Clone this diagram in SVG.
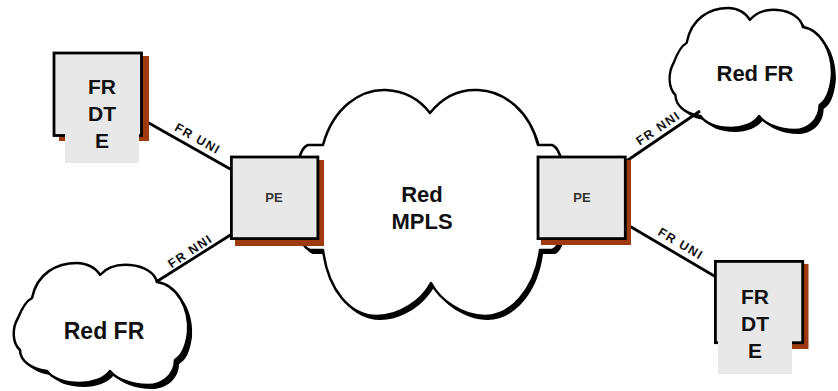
<svg xmlns="http://www.w3.org/2000/svg" width="838" height="391" viewBox="0 0 838 391">
<defs>
<style>
.box{fill:#e8e8e8;stroke:#000;stroke-width:2.8}
.sh{fill:#9e3a0e}
.lbg{fill:#e8e8e8}
.big{font-family:"Liberation Sans",Arial,sans-serif;font-weight:bold;fill:#111;text-anchor:middle}
.pe{font-family:"Liberation Sans",Arial,sans-serif;font-weight:bold;font-size:13px;fill:#333;text-anchor:middle}
.lk{font-family:"Liberation Sans",Arial,sans-serif;font-weight:bold;font-size:12.5px;fill:#111;text-anchor:middle}
.ln{stroke:#000;stroke-width:2.8;fill:none}
.cl{fill:#fff;stroke:#000;stroke-width:2.5;stroke-linejoin:round}
.cs{fill:#000}
</style>
<path id="fr" d="M20,35 C25,10 45,0 65,0 C75,0 84,5 88,12 C95,4 106,1 118,2 C132,3 143,10 145,19 C165,22 178,45 176,70 C174,85 170,93 163,97 C163,112 150,122 136,122 C120,122 104,116 98,108 C92,116 80,120 68,120 C52,120 40,115 35,108 C18,106 8,97 8,87 C0,80 0,65 6,55 C10,45 14,38 20,35 Z"/>
<path id="mpls" d="M323,145 C333,108 360,89 386,90 C405,91 420,100 430,113 C442,98 458,89 478,90 C505,91 530,112 538,145 L552,145 C570,150 570,245 552,250 L540,250 C535,290 510,316 485,316 C462,316 440,300 431,283 C422,300 400,316 377,316 C350,316 328,290 323,250 L310,250 C290,245 290,150 308,145 Z"/>
</defs>
<rect width="838" height="391" fill="#fff"/>

<g id="cloud-mpls">
<use href="#mpls" class="cs" transform="translate(3,4)"/>
<use href="#mpls" class="cl"/>
<text class="big" font-size="22" x="422" y="202">Red</text>
<text class="big" font-size="22" x="422" y="229">MPLS</text>
</g>

<g id="cloud-fr-left">
<use href="#fr" class="cs" transform="translate(16,267)"/>
<use href="#fr" class="cl" transform="translate(12,263)"/>
<text class="big" font-size="23" x="104" y="339">Red FR</text>
</g>

<g id="cloud-fr-right">
<use href="#fr" class="cs" transform="translate(672,12) scale(0.93,1)"/>
<use href="#fr" class="cl" transform="translate(668,8) scale(0.93,1)"/>
<text class="big" font-size="22" x="755" y="81">Red FR</text>
</g>

<g id="connectors">
<line class="ln" x1="147" y1="122" x2="232" y2="170"/>
<text class="lk" x="195" y="142" textLength="49" lengthAdjust="spacing" transform="rotate(29.5 195 142)">FR UNI</text>
<line class="ln" x1="156" y1="282" x2="232" y2="234"/>
<text class="lk" x="192" y="255" textLength="49" lengthAdjust="spacing" transform="rotate(-33.5 192 255)">FR NNI</text>
<line class="ln" x1="625" y1="162" x2="700" y2="111"/>
<text class="lk" x="660" y="132" textLength="49" lengthAdjust="spacing" transform="rotate(-34.2 660 132)">FR NNI</text>
<line class="ln" x1="626" y1="224" x2="716" y2="277"/>
<text class="lk" x="678" y="247" textLength="49" lengthAdjust="spacing" transform="rotate(30.5 678 247)">FR UNI</text>
</g>

<g id="dte-left">
<rect class="sh" x="59" y="56" width="90" height="85"/>
<rect class="box" x="54" y="53" width="87.5" height="82.5"/>
<rect class="lbg" x="65" y="64" width="74" height="99"/>
<text class="big" font-size="21" x="102" y="94">FR</text>
<text class="big" font-size="21" x="102" y="121">DT</text>
<text class="big" font-size="21" x="102" y="148">E</text>
</g>

<g id="pe-left">
<rect class="sh" x="235" y="160" width="89" height="86"/>
<rect class="box" x="231.4" y="157" width="86.5" height="81.6"/>
<text class="pe" x="274" y="202">PE</text>
</g>

<g id="pe-right">
<rect class="sh" x="541" y="160" width="90" height="85"/>
<rect class="box" x="538" y="157" width="87.3" height="81.6"/>
<text class="pe" x="582" y="202">PE</text>
</g>

<g id="dte-right">
<rect class="sh" x="719" y="264" width="89.5" height="85"/>
<rect class="box" x="715.4" y="261.4" width="87.3" height="81.3"/>
<rect class="lbg" x="718" y="272" width="74" height="102"/>
<text class="big" font-size="21" x="755" y="304">FR</text>
<text class="big" font-size="21" x="755" y="331">DT</text>
<text class="big" font-size="21" x="755" y="358">E</text>
</g>
</svg>
